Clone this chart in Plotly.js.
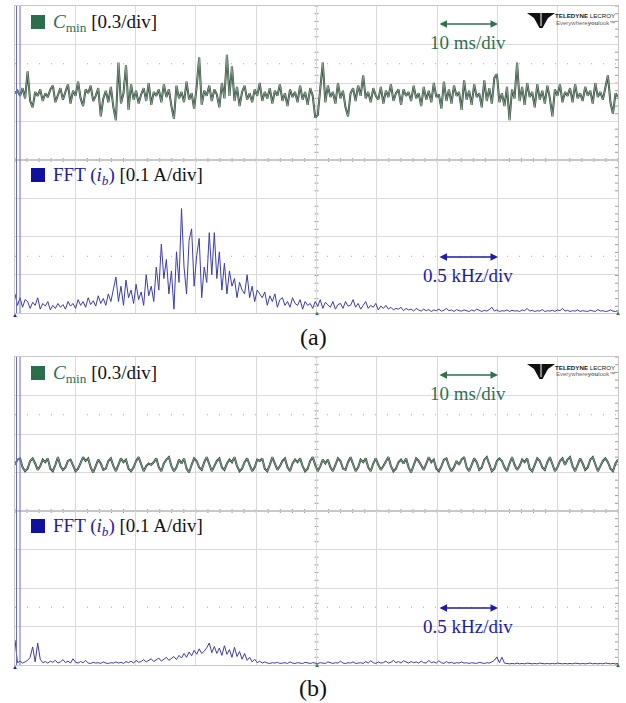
<!DOCTYPE html>
<html><head><meta charset="utf-8">
<script src="https://cdn.plot.ly/plotly-3.0.1.min.js"></script>
<style>html,body{margin:0;padding:0;background:#fff;}#chart{width:626px;height:703px;}</style>
</head><body><div id="chart"></div>
<script>
// ---- data (read from the scope captures) ----
// (a) C_min trace, 0.3/div, 10 ms/div
const cminA = [
0.52,0.54,0.50,0.56,0.48,0.69,0.46,0.41,0.53,0.50,0.55,0.46,0.52,0.49,0.55,0.58,0.45,0.50,0.56,0.47,
0.53,0.59,0.44,0.54,0.50,0.61,0.48,0.42,0.55,0.52,0.58,0.46,0.50,0.56,0.34,0.48,0.54,0.45,0.57,0.41,
0.31,0.76,0.44,0.52,0.74,0.39,0.59,0.47,0.54,0.44,0.51,0.56,0.46,0.60,0.43,0.53,0.50,0.55,0.45,0.59,
0.49,0.55,0.42,0.32,0.58,0.48,0.53,0.45,0.61,0.47,0.52,0.40,0.57,0.80,0.43,0.54,0.50,0.58,0.46,0.55,
0.51,0.41,0.60,0.48,0.82,0.50,0.73,0.46,0.57,0.42,0.53,0.58,0.47,0.52,0.45,0.55,0.50,0.60,0.46,0.53,
0.48,0.56,0.44,0.54,0.50,0.59,0.46,0.52,0.42,0.55,0.49,0.53,0.45,0.58,0.47,0.53,0.43,0.56,0.50,0.33,
0.35,0.55,0.76,0.45,0.58,0.49,0.53,0.44,0.60,0.48,0.54,0.41,0.34,0.52,0.56,0.46,0.58,0.50,0.66,0.48,
0.53,0.45,0.56,0.50,0.47,0.57,0.44,0.54,0.49,0.59,0.46,0.52,0.55,0.43,0.55,0.50,0.53,0.46,0.58,0.48,
0.52,0.42,0.57,0.47,0.54,0.45,0.60,0.49,0.51,0.40,0.61,0.46,0.55,0.44,0.58,0.50,0.53,0.39,0.62,0.47,
0.54,0.43,0.59,0.49,0.52,0.41,0.62,0.46,0.56,0.44,0.64,0.67,0.45,0.52,0.42,0.57,0.31,0.55,0.48,0.76,
0.46,0.57,0.43,0.60,0.49,0.53,0.41,0.59,0.47,0.54,0.44,0.58,0.48,0.34,0.55,0.50,0.59,0.45,0.53,0.50,
0.56,0.45,0.59,0.48,0.52,0.46,0.57,0.50,0.54,0.44,0.60,0.49,0.53,0.47,0.58,0.66,0.45,0.36,0.52,0.49];
// (a) FFT(i_b) magnitude [A], 0.5 kHz/div
const fftA = [
0.05,0.02,0.04,0.015,0.035,0.03,0.012,0.028,0.02,0.04,0.01,0.025,0.018,0.03,0.008,0.02,0.012,0.025,0.015,0.022,
0.01,0.03,0.018,0.025,0.012,0.035,0.02,0.03,0.015,0.04,0.022,0.032,0.018,0.045,0.025,0.038,0.02,0.05,0.03,0.06,
0.094,0.03,0.07,0.02,0.086,0.04,0.06,0.025,0.075,0.035,0.055,0.02,0.10,0.045,0.07,0.03,0.12,0.06,0.18,0.09,
0.14,0.05,0.11,0.01,0.16,0.08,0.273,0.12,0.05,0.19,0.22,0.07,0.15,0.195,0.04,0.12,0.08,0.21,0.10,0.21,
0.09,0.16,0.06,0.13,0.05,0.11,0.07,0.09,0.04,0.08,0.06,0.05,0.10,0.04,0.07,0.03,0.06,0.05,0.04,0.055,
0.02,0.045,0.03,0.05,0.015,0.035,0.04,0.02,0.03,0.015,0.04,0.025,0.02,0.035,0.01,0.03,0.02,0.025,0.012,0.03,
0.018,0.035,0.012,0.028,0.02,0.015,0.03,0.01,0.022,0.025,0.012,0.03,0.018,0.02,0.035,0.015,0.025,0.01,0.02,0.03,
0.012,0.02,0.015,0.025,0.008,0.018,0.012,0.02,0.01,0.015,0.008,0.012,0.01,0.015,0.006,0.012,0.008,0.01,0.005,0.012,
0.008,0.005,0.01,0.006,0.009,0.004,0.008,0.006,0.01,0.005,0.007,0.012,0.006,0.008,0.004,0.009,0.006,0.005,0.008,0.006,
0.004,0.008,0.005,0.01,0.006,0.004,0.007,0.005,0.009,0.015,0.005,0.008,0.004,0.006,0.005,0.008,0.004,0.007,0.005,0.006,
0.004,0.008,0.006,0.012,0.005,0.007,0.004,0.006,0.005,0.009,0.004,0.006,0.005,0.007,0.004,0.008,0.006,0.012,0.005,0.007,
0.004,0.006,0.005,0.008,0.004,0.006,0.005,0.004,0.007,0.005,0.004,0.009,0.005,0.006,0.004,0.005,0.008,0.005,0.004,0.006];
// (b) C_min trace
const cminB = [
0.36,0.40,0.41,0.34,0.31,0.33,0.39,0.41,0.37,0.32,0.35,0.40,0.38,0.41,0.33,0.31,0.36,0.42,0.35,0.32,
0.34,0.39,0.40,0.36,0.31,0.33,0.38,0.42,0.39,0.41,0.34,0.30,0.35,0.40,0.37,0.32,0.33,0.39,0.41,0.35,
0.31,0.36,0.41,0.38,0.40,0.33,0.31,0.34,0.39,0.42,0.36,0.31,0.35,0.37,0.36,0.38,0.41,0.34,0.31,0.37,
0.40,0.42,0.35,0.31,0.34,0.40,0.37,0.41,0.33,0.30,0.36,0.41,0.39,0.34,0.32,0.38,0.42,0.36,0.31,0.35,
0.39,0.41,0.34,0.32,0.37,0.40,0.38,0.42,0.35,0.31,0.33,0.38,0.41,0.36,0.31,0.34,0.40,0.39,0.41,0.33,
0.31,0.36,0.42,0.37,0.32,0.35,0.39,0.41,0.34,0.31,0.37,0.40,0.38,0.41,0.35,0.31,0.33,0.39,0.42,0.36,
0.31,0.35,0.40,0.37,0.40,0.34,0.31,0.36,0.41,0.39,0.33,0.32,0.38,0.42,0.36,0.31,0.34,0.40,0.38,0.41,
0.34,0.31,0.37,0.41,0.36,0.32,0.35,0.39,0.42,0.35,0.31,0.33,0.38,0.40,0.37,0.41,0.34,0.30,0.36,0.41,
0.39,0.35,0.32,0.37,0.42,0.38,0.40,0.33,0.31,0.35,0.40,0.41,0.35,0.31,0.34,0.39,0.36,0.40,0.42,0.34,
0.31,0.36,0.41,0.38,0.32,0.34,0.40,0.42,0.37,0.31,0.33,0.39,0.41,0.39,0.34,0.31,0.37,0.42,0.36,0.32,
0.35,0.40,0.38,0.41,0.33,0.31,0.36,0.41,0.39,0.34,0.32,0.38,0.42,0.37,0.31,0.34,0.39,0.41,0.36,0.40,
0.42,0.35,0.31,0.36,0.41,0.37,0.32,0.34,0.40,0.42,0.36,0.31,0.35,0.39,0.41,0.38,0.33,0.31,0.37,0.40];
// (b) FFT(i_b) magnitude [A]
const fftB = [
0.065,0.006,0.01,0.005,0.008,0.012,0.02,0.047,0.008,0.057,0.015,0.006,0.009,0.005,0.01,0.007,0.012,0.005,0.008,0.014,
0.006,0.01,0.005,0.016,0.007,0.005,0.009,0.006,0.012,0.005,0.004,0.007,0.005,0.006,0.004,0.008,0.005,0.004,0.006,0.005,
0.008,0.005,0.007,0.004,0.009,0.006,0.01,0.005,0.012,0.007,0.009,0.014,0.008,0.011,0.016,0.009,0.013,0.018,0.01,0.015,
0.02,0.012,0.017,0.022,0.014,0.025,0.018,0.03,0.02,0.034,0.024,0.038,0.028,0.042,0.03,0.036,0.045,0.057,0.032,0.048,
0.03,0.044,0.025,0.05,0.028,0.04,0.02,0.046,0.022,0.035,0.015,0.03,0.012,0.02,0.008,0.015,0.006,0.01,0.005,0.008,
0.005,0.004,0.006,0.005,0.007,0.004,0.005,0.006,0.004,0.008,0.005,0.004,0.006,0.005,0.004,0.007,0.005,0.004,0.006,0.005,
0.004,0.006,0.005,0.004,0.008,0.005,0.004,0.006,0.005,0.01,0.005,0.004,0.006,0.005,0.008,0.004,0.005,0.006,0.004,0.009,
0.005,0.011,0.006,0.004,0.008,0.005,0.006,0.01,0.005,0.007,0.012,0.006,0.009,0.005,0.011,0.007,0.005,0.009,0.006,0.008,
0.005,0.01,0.006,0.005,0.012,0.006,0.008,0.005,0.011,0.006,0.004,0.009,0.005,0.007,0.004,0.006,0.005,0.008,0.005,0.006,
0.004,0.006,0.005,0.004,0.007,0.005,0.004,0.006,0.005,0.008,0.012,0.021,0.006,0.02,0.005,0.004,0.003,0.004,0.003,0.005,
0.003,0.004,0.003,0.005,0.004,0.003,0.004,0.003,0.005,0.004,0.003,0.004,0.003,0.004,0.003,0.005,0.004,0.003,0.004,0.003,
0.004,0.003,0.005,0.004,0.003,0.004,0.003,0.004,0.005,0.003,0.004,0.003,0.004,0.003,0.005,0.004,0.003,0.004,0.003,0.004];

const timeDivMs = 10, freqDivKHz = 0.5, cminDiv = 0.3, fftDivA = 0.1;
const hDivs = 10, vDivs = 4;

// ---- layout helpers (pixel -> paper) ----
const W = 626, H = 703;
const X = p => p / W, Y = p => 1 - p / H;
const L = 15, R = 618;
const panels = [
  {top: 6, sep: 160, bot: 313, cmin: cminA, fft: fftA, ax: ['x','y','x2','y2'], lab: '(a)', labY: 337},
  {top: 357, sep: 511, bot: 665, cmin: cminB, fft: fftB, ax: ['x3','y3','x4','y4'], lab: '(b)', labY: 688}
];
const SERIF = 'Liberation Serif, Times New Roman, serif';
const SANS = 'Liberation Sans, Arial, sans-serif';
const GREEN = '#2f7050', BLUE = '#1c1ca8';

function axis(domain, range, dtick, anchor) {
  return {domain, range, dtick, tick0: 0, anchor, showgrid: true, gridcolor: '#dadada', gridwidth: 1,
    showticklabels: false, ticks: '', zeroline: false, showline: true, mirror: true,
    linecolor: '#c8c8c8', linewidth: 1, fixedrange: true};
}

const traces = [], shapes = [], annotations = [];
const layout = {width: W, height: H, margin: {l: 0, r: 0, t: 0, b: 0}, paper_bgcolor: '#fff',
  plot_bgcolor: '#fff', showlegend: false, hovermode: false};

panels.forEach((p, k) => {
  const [xa, ya, xb, yb] = p.ax;
  const n1 = xa === 'x' ? '' : xa.slice(1), n2 = xb.slice(1);
  const yn1 = ya === 'y' ? '' : ya.slice(1);
  layout['xaxis' + n1] = axis([X(L), X(R)], [0, timeDivMs * hDivs], timeDivMs, ya);
  layout['yaxis' + yn1] = axis([Y(p.sep), Y(p.top)], [0, cminDiv * vDivs], cminDiv, xa);
  layout['xaxis' + n2] = axis([X(L), X(R)], [0, freqDivKHz * hDivs], freqDivKHz, yb);
  layout['yaxis' + n2] = axis([Y(p.bot), Y(p.sep)], [0, fftDivA * vDivs], fftDivA, xb);

  const t = p.cmin.map((_, i) => i * timeDivMs * hDivs / (p.cmin.length - 1));
  const f = p.fft.map((_, i) => i * freqDivKHz * hDivs / (p.fft.length - 1));
  traces.push({x: t, y: p.cmin, xaxis: xa, yaxis: ya, mode: 'lines', line: {color: '#24452f', width: 2.0}});
  traces.push({x: t, y: p.cmin, xaxis: xa, yaxis: ya, mode: 'lines', line: {color: '#c3cec6', width: 0.6}});
  traces.push({x: f, y: p.fft, xaxis: xb, yaxis: yb, mode: 'lines', line: {color: '#3d3daa', width: 1}});

  const pl = (x0, y0, x1, y1, color, width, dash) => shapes.push({type: 'line', xref: 'paper', yref: 'paper',
    x0: X(x0), y0: Y(y0), x1: X(x1), y1: Y(y1), line: {color, width, dash: dash || 'solid'}, layer: 'below'});
  // separator between the two grids
  pl(L, p.sep, R, p.sep, '#9a9a9a', 1);
  // dotted reference rows
  const dv = (p.sep - p.top) / vDivs;
  pl(L, p.top + 1.5 * dv, R, p.top + 1.5 * dv, '#a8a8a8', 1, '1px,11px');
  pl(L, p.sep + 2.5 * dv, R, p.sep + 2.5 * dv, '#a8a8a8', 1, '1px,11px');
  // minor ticks on centre vertical, right border and separator
  const cx = (L + R) / 2;
  for (let y = p.top; y <= p.bot + 0.1; y += dv / 5) {
    pl(cx - 2, y, cx + 2, y, '#9a9a9a', 1);
    pl(R - 3, y, R, y, '#9a9a9a', 1);
  }
  const hd = (R - L) / hDivs;
  for (let x = L; x <= R + 0.1; x += hd / 5) pl(x, p.sep - 2, x, p.sep + 2, '#9a9a9a', 1);
  // clipped DC bin of the FFT (double vertical line at the left edge)
  shapes.push({type: 'line', xref: 'paper', yref: 'paper', x0: X(16.5), x1: X(16.5), y0: Y(p.top), y1: Y(p.bot), line: {color: '#6c6cc8', width: 1}});
  shapes.push({type: 'line', xref: 'paper', yref: 'paper', x0: X(20), x1: X(20), y0: Y(p.top), y1: Y(p.bot), line: {color: '#6c6cc8', width: 1}});

  // legend squares
  const sq = (y, c) => shapes.push({type: 'rect', xref: 'paper', yref: 'paper', x0: X(31), x1: X(45), y0: Y(y - 7), y1: Y(y + 7), fillcolor: c, line: {width: 0}});
  const cy = p.top + 16, fy = p.sep + 15;
  sq(cy, '#2c6e4c'); sq(fy, '#1111a0');
  annotations.push({xref: 'paper', yref: 'paper', x: X(51), y: Y(cy + 1), xanchor: 'left', yanchor: 'middle', showarrow: false,
    text: '<span style="color:' + GREEN + '"><i>C</i><sub>min</sub></span> [0.3/div]', font: {family: SERIF, size: 19, color: '#111'}});
  annotations.push({xref: 'paper', yref: 'paper', x: X(51), y: Y(fy + 1), xanchor: 'left', yanchor: 'middle', showarrow: false,
    text: '<span style="color:' + BLUE + '">FFT (<i>i<sub>b</sub></i>)</span> [0.1 A/div]', font: {family: SERIF, size: 19, color: '#111'}});

  // scale indicators
  const ay1 = p.top + 18, ay2 = p.sep + 97;
  [[ay1, GREEN, '10 ms/div'], [ay2, BLUE, '0.5 kHz/div']].forEach(([yy, c, txt]) => {
    annotations.push({xref: 'paper', yref: 'paper', x: X(498), y: Y(yy), ax: -60, ay: 0, axref: 'pixel', ayref: 'pixel',
      text: '', showarrow: true, arrowside: 'end+start', arrowhead: 2, arrowsize: 1, arrowwidth: 1.5, arrowcolor: c});
    annotations.push({xref: 'paper', yref: 'paper', x: X(468), y: Y(yy + 18), xanchor: 'center', yanchor: 'middle', showarrow: false,
      text: txt, font: {family: SERIF, size: 19, color: c}});
  });

  // Teledyne LeCroy logo
  const ly = p.top;
  shapes.push({type: 'path', xref: 'paper', yref: 'paper', fillcolor: '#111', line: {width: 0},
    path: 'M' + X(527) + ',' + Y(ly + 7) + ' L' + X(555) + ',' + Y(ly + 7) + ' L' + X(548) + ',' + Y(ly + 12) +
      ' L' + X(542.5) + ',' + Y(ly + 22) + ' L' + X(539.5) + ',' + Y(ly + 22) + ' L' + X(534) + ',' + Y(ly + 12) + ' Z'});
  shapes.push({type: 'line', xref: 'paper', yref: 'paper', x0: X(541), x1: X(541), y0: Y(ly + 7), y1: Y(ly + 20), line: {color: '#fff', width: 1}});
  annotations.push({xref: 'paper', yref: 'paper', x: X(617), y: Y(ly + 10), xanchor: 'right', yanchor: 'middle', showarrow: false,
    text: '<b>TELEDYNE</b> LECROY', font: {family: SANS, size: 6.2, color: '#222'}});
  annotations.push({xref: 'paper', yref: 'paper', x: X(617), y: Y(ly + 17), xanchor: 'right', yanchor: 'middle', showarrow: false,
    text: 'Everywhere<b>you</b>look\u2122', font: {family: SANS, size: 6, color: '#666'}});

  // trigger / position markers
  [[L, p.bot + 2, '#2020a0'], [cx, p.bot, '#2f7050'], [R, p.bot, '#2f7050']].forEach(([x, y, c]) =>
    annotations.push({xref: 'paper', yref: 'paper', x: X(x), y: Y(y), xanchor: 'center', yanchor: 'middle', showarrow: false,
      text: '\u25B2', font: {size: 6, color: c}}));

  // panel label
  annotations.push({xref: 'paper', yref: 'paper', x: X(313), y: Y(p.labY), xanchor: 'center', yanchor: 'middle', showarrow: false,
    text: p.lab, font: {family: SERIF, size: 24, color: '#111'}});
});

layout.shapes = shapes;
layout.annotations = annotations;
Plotly.newPlot('chart', traces, layout, {displayModeBar: false, staticPlot: true});
</script></body></html>
